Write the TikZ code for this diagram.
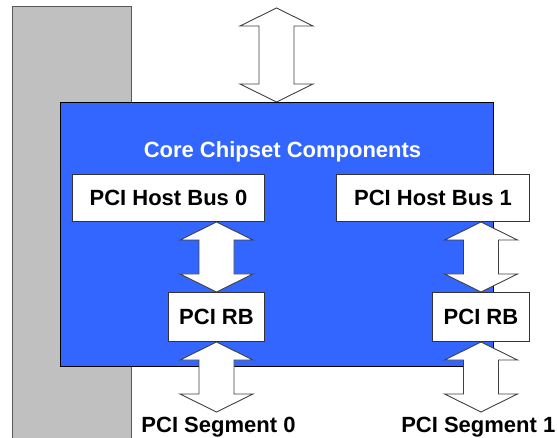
\documentclass[tikz,border=0pt]{standalone}
\usepackage{fontspec}
\setmainfont{Liberation Sans}
\usetikzlibrary{calc}
\definecolor{coreblue}{HTML}{3366FF}
\definecolor{sidegray}{HTML}{C0C0C0}
\newcommand\blockarr[2]{%
  \path[barrow] let \p1=(#1), \p2=(#2) in
    (\x1,\y1) -- (\x1+36.5pt,\y1-18pt) -- (\x1+17.5pt,\y1-18pt) --
    (\x1+17.5pt,\y2+18pt) -- (\x1+36.5pt,\y2+18pt) -- (\x1,\y2) --
    (\x1-36.5pt,\y2+18pt) -- (\x1-17.5pt,\y2+18pt) --
    (\x1-17.5pt,\y1-18pt) -- (\x1-36.5pt,\y1-18pt) -- cycle;}
\begin{document}
\begin{tikzpicture}[x=1pt,y=-1pt,
  txt/.style={font=\fontsize{22}{26}\selectfont\bfseries},
  box/.style={txt, draw=black!80, line width=1pt, fill=white, inner sep=0pt, anchor=north west},
  barrow/.style={draw=black!75, line width=0.9pt, fill=white, line join=miter},
  lbl/.style={txt, inner sep=0pt}]
\useasboundingbox (0,0) rectangle (557,438);
\draw[fill=sidegray, draw=black!65, line width=1pt] (12.5,7) rectangle (131,450);
\node[draw=black, line width=0.8pt, fill=coreblue, minimum width=433pt, minimum height=264pt,
      anchor=north west, inner sep=0pt] (core) at (59.5,102) {};
\node[lbl, text=white, anchor=base] (title) at (282.5,158) {Core Chipset Components};
\node[box, minimum width=192pt, minimum height=47pt] (hb0) at (72,174) {PCI Host Bus 0};
\node[box, minimum width=193pt, minimum height=47pt] (hb1) at (336,174) {PCI Host Bus 1};
\node[box, minimum width=96pt, minimum height=49pt] (rb0) at (168,292) {PCI RB};
\node[box, minimum width=97pt, minimum height=49pt] (rb1) at (432,292) {PCI RB};
\coordinate (host) at (276.5,8);
\coordinate (seg0) at (216,412);
\coordinate (seg1) at (480.5,412);
\blockarr{host}{core.north}
\blockarr{rb0.north |- hb0.south}{rb0.north}
\blockarr{rb1.north |- hb1.south}{rb1.north}
\blockarr{rb0.south}{seg0}
\blockarr{rb1.south}{seg1}
\node[lbl, anchor=base] (s0) at (218.5,432) {PCI Segment 0};
\node[lbl, anchor=base east] (s1) at (555.5,432) {PCI Segment 1};
\end{tikzpicture}
\end{document}
